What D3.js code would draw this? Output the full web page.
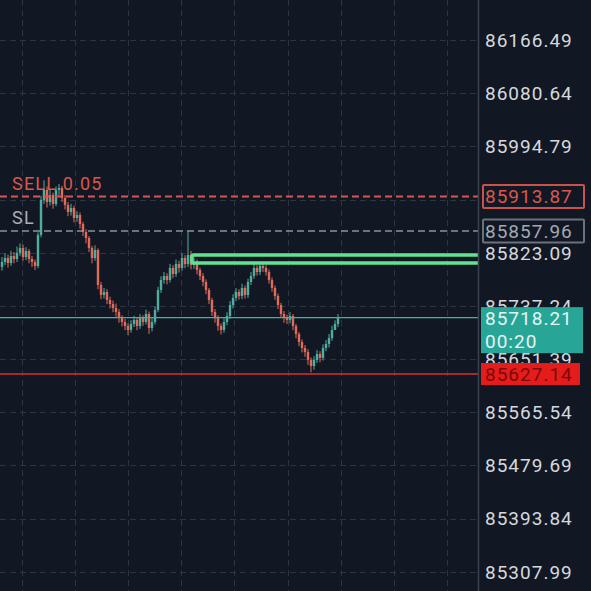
<!DOCTYPE html>
<html>
<head>
<meta charset="utf-8">
<script src="https://cdn.jsdelivr.net/npm/d3@7/dist/d3.min.js"></script>
<style>
html,body{margin:0;padding:0;background:#121823;}
svg{display:block;}
text{font-family:Roboto,"Noto Sans",sans-serif;}
</style>
</head>
<body>
<svg id="chart" width="591" height="591"></svg>
<script>
// ---- data ----
const yTicks = [86166.49, 86080.64, 85994.79, 85908.94, 85823.09, 85737.24, 85651.39, 85565.54, 85479.69, 85393.84, 85307.99];
const yTickLabels = ["86166.49","86080.64","85994.79","","85823.09","85737.24","85651.39","85565.54","85479.69","85393.84","85307.99"];
const firstOpen = 85800.0;
const closes = [85808.1,85814.5,85806.4,85817.7,85812.9,85822.6,85830.7,85816.1,85825.8,85812.9,
85808.1,85801.6,85851.7,85908.2,85924.3,85904.9,85916.2,85901.7,85924.3,85927.5,
85911.4,85900.1,85888.8,85895.2,85879.1,85883.9,85869.4,85856.5,85846.8,85830.7,
85814.5,85827.4,85770.9,85754.8,85759.6,85746.7,85740.2,85733.8,85727.3,85717.6,
85711.2,85704.7,85698.3,85708.0,85714.4,85704.7,85717.6,85711.2,85724.1,85701.5,
85711.2,85730.6,85762.8,85779.0,85785.5,85779.0,85798.4,85788.7,85804.8,85798.4,
85814.5,85804.8,85819.4,85803.2,85808.1,85795.1,85785.5,85775.8,85762.8,85746.7,
85727.3,85717.6,85704.7,85698.3,85711.2,85720.9,85738.6,85749.9,85759.6,85753.2,
85766.1,85754.8,85775.8,85785.5,85798.4,85791.9,85801.6,85798.4,85791.9,85779.0,
85766.1,85753.2,85738.6,85724.1,85717.6,85714.4,85720.9,85704.7,85691.8,85678.9,
85669.2,85662.7,85649.8,85640.1,85649.8,85659.5,85653.1,85669.2,85675.7,85685.3,
85698.3,85708.0,85718.21];
const highs = [85816,85822,85820,85826,85824,85833,85838,85836,85832,85829,
85818,85812,85856,85915,85940,85930,85926,85920,85930,85934,
85931,85916,85905,85902,85899,85890,85888,85873,85861,85850,
85834,85835,85830,85776,85766,85764,85752,85746,85741,85732,
85722,85716,85709,85714,85721,85719,85724,85722,85731,85728,
85717,85736,85768,85785,85792,85790,85805,85803,85812,85810,
85822,85819,85858,85826,85815,85812,85799,85790,85780,85766,
85750,85732,85722,85709,85717,85727,85745,85756,85766,85764,
85773,85770,85781,85792,85806,85803,85808,85808,85803,85796,
85783,85770,85757,85742,85729,85723,85727,85724,85708,85695,
85683,85674,85667,85654,85656,85666,85664,85675,85682,85692,
85705,85714,85724];
const lows = [85794,85803,85799,85802,85806,85808,85818,85810,85811,85806,
85800,85795,85798,85848,85902,85896,85899,85894,85898,85915,
85905,85893,85882,85883,85872,85873,85862,85850,85838,85824,
85806,85810,85764,85748,85749,85740,85733,85727,85720,85710,
85704,85698,85690,85694,85703,85698,85700,85705,85707,85692,
85696,85707,85727,85758,85773,85772,85775,85782,85784,85791,
85794,85798,85800,85796,85797,85788,85779,85769,85756,85740,
85721,85710,85697,85691,85694,85706,85716,85733,85745,85747,
85748,85749,85750,85771,85781,85786,85787,85792,85786,85773,
85760,85747,85732,85718,85710,85708,85709,85698,85685,85672,
85662,85655,85642,85630,85634,85645,85646,85649,85664,85670,
85681,85702,85703];
const sellPrice = 85913.87, sellLabel = "SELL 0.05";
const slPrice = 85857.96, slLabel = "SL";
const tpZone = [85806.4, 85819.4], tpStartSlot = 63.3;
const lastPrice = 85718.21, countdown = "00:20";
const redLinePrice = 85627.14;

// ---- layout ----
const W = 591, H = 591, axisX = 478;
const svg = d3.select("#chart");
const bg = "#121823";
svg.append("rect").attr("width", W).attr("height", H).attr("fill", bg);

const y = d3.scaleLinear().domain([85307.99, 86166.49]).range([571.7, 40]);
const x = d3.scaleLinear().domain([0, closes.length - 1]).range([2, 338]);

// grid
const gridSlots = d3.range(9).map(k => 6.67 + 17.7 * k);
const grid = svg.append("g").attr("stroke", "#2b3441").attr("stroke-width", 1).attr("stroke-dasharray", "6,4");
grid.selectAll("line.v").data(gridSlots).enter().append("line")
  .attr("x1", d => Math.round(x(d)) + 0.5).attr("x2", d => Math.round(x(d)) + 0.5)
  .attr("y1", 0).attr("y2", H);
grid.selectAll("line.h").data(yTicks).enter().append("line")
  .attr("x1", 0).attr("x2", axisX)
  .attr("y1", d => Math.round(y(d)) + 0.5).attr("y2", d => Math.round(y(d)) + 0.5);

// candles
const upC = "#4fae9f", dnC = "#e26a5b";
const candles = closes.map((c, i) => ({ i, o: i === 0 ? firstOpen : closes[i - 1], c, h: highs[i], l: lows[i] }));
const cg = svg.append("g");
cg.selectAll("line").data(candles).enter().append("line")
  .attr("x1", d => x(d.i)).attr("x2", d => x(d.i))
  .attr("y1", d => y(d.h)).attr("y2", d => y(d.l))
  .attr("stroke", d => d.c >= d.o ? upC : dnC).attr("stroke-width", 1);
cg.selectAll("rect").data(candles).enter().append("rect")
  .attr("x", d => x(d.i) - 1.2).attr("width", 2.4)
  .attr("y", d => y(Math.max(d.o, d.c)))
  .attr("height", d => Math.max(1, Math.abs(y(d.o) - y(d.c))))
  .attr("fill", d => d.c >= d.o ? upC : dnC);

// TP zone (green)
svg.append("rect")
  .attr("x", x(tpStartSlot)).attr("y", y(tpZone[1]))
  .attr("width", axisX + 6 - x(tpStartSlot)).attr("height", y(tpZone[0]) - y(tpZone[1]))
  .attr("rx", 2).attr("fill", "none")
  .attr("stroke", "#5fe391").attr("stroke-width", 3.5);

// SELL / SL dashed lines
svg.append("line").attr("x1", 0).attr("x2", axisX).attr("y1", y(sellPrice)).attr("y2", y(sellPrice))
  .attr("stroke", "#d9544c").attr("stroke-width", 2).attr("stroke-dasharray", "7,4");
svg.append("line").attr("x1", 0).attr("x2", axisX).attr("y1", y(slPrice)).attr("y2", y(slPrice))
  .attr("stroke", "#8d939c").attr("stroke-width", 1.5).attr("stroke-dasharray", "7,4");
svg.append("text").attr("x", 12).attr("y", y(sellPrice) - 6).attr("fill", "#d9574d")
  .attr("font-size", 18).attr("letter-spacing", "1.2px").text(sellLabel);
svg.append("text").attr("x", 12).attr("y", y(slPrice) - 7).attr("fill", "#a9aeb7")
  .attr("font-size", 18).attr("letter-spacing", "1.2px").text(slLabel);

// last price line (teal) and red line
svg.append("line").attr("x1", 0).attr("x2", axisX).attr("y1", y(lastPrice)).attr("y2", y(lastPrice))
  .attr("stroke", "#3fb3a5").attr("stroke-width", 1.2);
svg.append("line").attr("x1", 0).attr("x2", axisX).attr("y1", y(redLinePrice)).attr("y2", y(redLinePrice))
  .attr("stroke", "#d9302c").attr("stroke-width", 1.6);

// price axis panel
svg.append("rect").attr("x", axisX + 0.5).attr("y", 0).attr("width", W - axisX).attr("height", H).attr("fill", bg);
svg.append("line").attr("x1", axisX + 0.5).attr("x2", axisX + 0.5).attr("y1", 0).attr("y2", H)
  .attr("stroke", "#39424f").attr("stroke-width", 1.5);

const fs = 19, ls = "1px", tx = 485;
svg.append("g").selectAll("text").data(yTicks.map((v, i) => ({ v, t: yTickLabels[i] })).filter(d => d.t)).enter()
  .append("text").attr("x", tx).attr("y", d => y(d.v)).attr("dy", "0.36em")
  .attr("fill", "#d5d8de").attr("font-size", fs).attr("letter-spacing", ls).text(d => d.t);

// sell box
function box(price, stroke, fill, color, label) {
  const cy = y(price);
  svg.append("rect").attr("x", 483).attr("y", cy - 11.5).attr("width", 101).attr("height", 23)
    .attr("fill", fill).attr("stroke", stroke).attr("stroke-width", stroke === "none" ? 0 : 2).attr("rx", 1);
  svg.append("text").attr("x", tx).attr("y", cy).attr("dy", "0.36em").attr("fill", color)
    .attr("font-size", fs).attr("letter-spacing", ls).text(label);
}
box(sellPrice, "#c9534b", bg, "#d9574d", d3.format(".2f")(sellPrice));
box(slPrice, "#6c727c", bg, "#a3a8b1", d3.format(".2f")(slPrice));

// last price box
const ly = y(lastPrice);
svg.append("rect").attr("x", 481).attr("y", ly - 10.5).attr("width", 102).attr("height", 46).attr("fill", "#27a597");
svg.append("text").attr("x", tx).attr("y", ly + 1).attr("dy", "0.36em").attr("fill", "#e6f4f2")
  .attr("font-size", fs).attr("letter-spacing", ls).text(d3.format(".2f")(lastPrice));
svg.append("text").attr("x", tx).attr("y", ly + 24).attr("dy", "0.36em").attr("fill", "#e6f4f2")
  .attr("font-size", fs).attr("letter-spacing", ls).text(countdown);

// red price box
const ry = y(redLinePrice);
svg.append("rect").attr("x", 481).attr("y", ry - 11).attr("width", 99).attr("height", 22).attr("fill", "#e41c1c");
svg.append("text").attr("x", tx).attr("y", ry).attr("dy", "0.36em").attr("fill", "#7d0808")
  .attr("font-size", fs).attr("letter-spacing", ls).text(d3.format(".2f")(redLinePrice));
</script>
</body>
</html>
